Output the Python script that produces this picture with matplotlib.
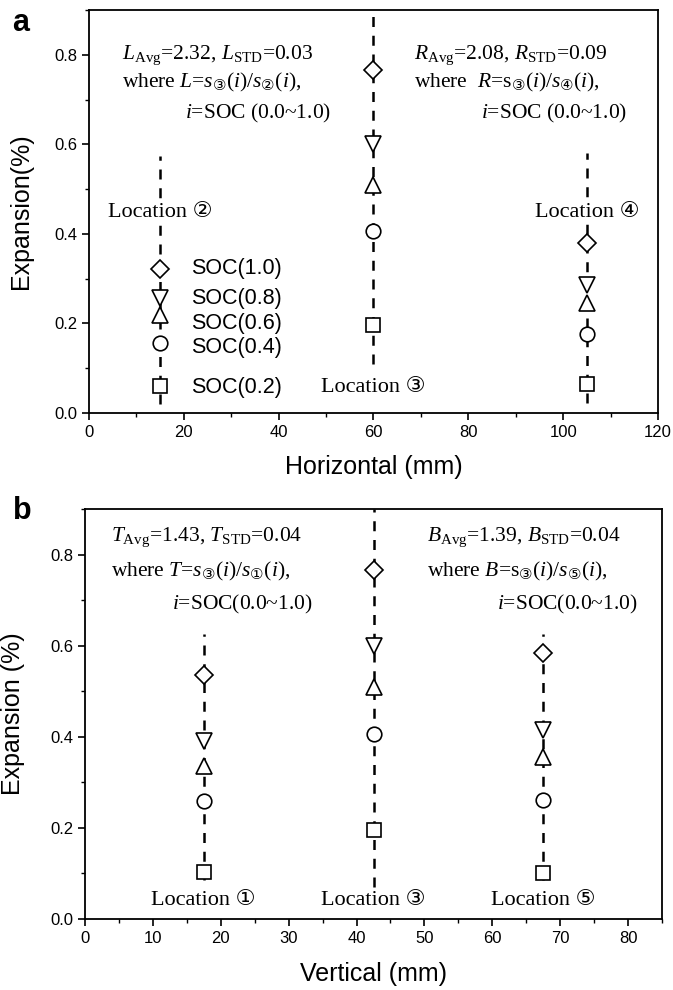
import matplotlib
matplotlib.use('Agg')
import matplotlib.pyplot as plt
from matplotlib.ticker import MultipleLocator

plt.rcParams['font.family'] = ['Liberation Sans', 'DejaVu Sans']
plt.rcParams['mathtext.fontset'] = 'custom'
plt.rcParams['mathtext.rm'] = 'Liberation Serif'
plt.rcParams['mathtext.it'] = 'Liberation Serif:italic'
plt.rcParams['mathtext.sf'] = 'DejaVu Sans'

# SOC levels and their marker shapes
soc_labels = ['SOC(1.0)', 'SOC(0.8)', 'SOC(0.6)', 'SOC(0.4)', 'SOC(0.2)']
soc_markers = ['D', 'v', '^', 'o', 's']

# panel a: horizontal locations (mm) and expansion (%)
a_x = [15, 60, 105]
a_loc2 = [0.321, 0.256, 0.219, 0.156, 0.060]
a_loc3 = [0.765, 0.600, 0.510, 0.406, 0.196]
a_loc4 = [0.379, 0.285, 0.245, 0.176, 0.065]
a_lines = [(0.02, 0.575), (0.11, 0.9), (0.022, 0.58)]

# panel b: vertical locations (mm) and expansion (%)
b_x = [17.5, 42.5, 67.5]
b_loc1 = [0.535, 0.390, 0.335, 0.258, 0.104]
b_loc3 = [0.765, 0.600, 0.510, 0.406, 0.196]
b_loc5 = [0.583, 0.415, 0.355, 0.262, 0.101]
b_lines = [(0.085, 0.625), (0.07, 0.9), (0.085, 0.625)]

serif = ['Liberation Serif', 'DejaVu Sans']
dash = (0, (4, 3.5))
msizes = {'D': 9.5, 'v': 11, '^': 11, 'o': 10.5, 's': 10}


def draw_column(ax, x, values, span):
    ax.plot([x, x], span, color='black', lw=1.8, linestyle=dash, zorder=1)
    for v, m in zip(values, soc_markers):
        ax.plot(x, v, marker=m, ms=msizes[m], mfc='white', mec='black',
                mew=1.2, linestyle='none', zorder=3)


def style_axes(ax, xmax, xmajor, xminor, xlabel, ylabel, ylab_x):
    ax.set_xlim(0, xmax)
    ax.set_ylim(0, 0.9)
    ax.xaxis.set_major_locator(MultipleLocator(xmajor))
    ax.xaxis.set_minor_locator(MultipleLocator(xminor))
    ax.yaxis.set_major_locator(MultipleLocator(0.2))
    ax.yaxis.set_minor_locator(MultipleLocator(0.1))
    ax.yaxis.set_major_formatter(matplotlib.ticker.FormatStrFormatter('%.1f'))
    ax.tick_params(which='major', direction='out', length=5, width=1.2, labelsize=12)
    ax.tick_params(which='minor', direction='out', length=3, width=1.0)
    for s in ax.spines.values():
        s.set_linewidth(1.3)
    ax.set_xlabel(xlabel, fontsize=18)
    ax.set_ylabel(ylabel, fontsize=18)
    ax.xaxis.set_label_coords(0.5, -0.105)
    ax.yaxis.set_label_coords(ylab_x, 0.5)


fig = plt.figure(figsize=(6.73, 9.9), dpi=100)
ax1 = fig.add_axes([0.1322, 0.5828, 0.8455, 0.4071])
ax2 = fig.add_axes([0.1263, 0.0717, 0.8574, 0.4142])

# ---- panel a ----
for x, vals, span in zip(a_x, [a_loc2, a_loc3, a_loc4], a_lines):
    draw_column(ax1, x, vals, span)

tsize = 15.5
lsize = 16
ax1.text(7.0, 0.80, r'$L_{\rm Avg}$=2.32, $L_{\rm STD}$=0.03', fontsize=tsize, family=serif, va='center')
ax1.text(7.0, 0.738, r'where $L$=$s_{\mathsf{③}}(i)/s_{\mathsf{②}}(i)$,', fontsize=tsize, family=serif, va='center')
ax1.text(20.3, 0.668, r'$i$=SOC (0.0~1.0)', fontsize=tsize, family=serif, va='center')
ax1.text(68.6, 0.80, r'$R_{\rm Avg}$=2.08, $R_{\rm STD}$=0.09', fontsize=tsize, family=serif, va='center')
ax1.text(68.6, 0.738, r'where  $R$=$\mathrm{s}_{\mathsf{③}}(i)/s_{\mathsf{④}}(i)$,', fontsize=tsize, family=serif, va='center')
ax1.text(82.7, 0.668, r'$i$=SOC (0.0~1.0)', fontsize=tsize, family=serif, va='center')

ax1.text(15, 0.448, 'Location ②', fontsize=lsize, family=serif, ha='center', va='center',
         bbox=dict(facecolor='white', edgecolor='none', pad=1), zorder=2)
ax1.text(60, 0.058, 'Location ③', fontsize=lsize, family=serif, ha='center', va='center', zorder=2)
ax1.text(105, 0.448, 'Location ④', fontsize=lsize, family=serif, ha='center', va='center',
         bbox=dict(facecolor='white', edgecolor='none', pad=1), zorder=2)

soc_y = [0.322, 0.256, 0.200, 0.147, 0.056]
for lab, y in zip(soc_labels, soc_y):
    ax1.text(21.5, y, lab, fontsize=15.5, va='center')

style_axes(ax1, 120, 20, 10, 'Horizontal (mm)', 'Expansion(%)', -0.098)

# ---- panel b ----
for x, vals, span in zip(b_x, [b_loc1, b_loc3, b_loc5], b_lines):
    draw_column(ax2, x, vals, span)

ax2.text(3.9, 0.837, r'$T_{\rm Avg}$=1.43, $T_{\rm STD}$=0.04', fontsize=tsize, family=serif, va='center')
ax2.text(3.9, 0.763, r'where $T$=$s_{\mathsf{③}}(i)/s_{\mathsf{①}}(i)$,', fontsize=tsize, family=serif, va='center')
ax2.text(12.8, 0.690, r'$i$=SOC(0.0~1.0)', fontsize=tsize, family=serif, va='center')
ax2.text(50.4, 0.837, r'$B_{\rm Avg}$=1.39, $B_{\rm STD}$=0.04', fontsize=tsize, family=serif, va='center')
ax2.text(50.4, 0.763, r'where $B$=$\mathrm{s}_{\mathsf{③}}(i)/s_{\mathsf{⑤}}(i)$,', fontsize=tsize, family=serif, va='center')
ax2.text(60.7, 0.690, r'$i$=SOC(0.0~1.0)', fontsize=tsize, family=serif, va='center')

for x, lab in zip(b_x, ['Location ①', 'Location ③', 'Location ⑤']):
    ax2.text(x, 0.040, lab, fontsize=lsize, family=serif, ha='center', va='center')

style_axes(ax2, 85, 10, 5, 'Vertical (mm)', 'Expansion (%)', -0.104)

fig.text(0.031, 1 - 23 / 990, 'a', fontsize=22, fontweight='bold', ha='center', va='center')
fig.text(0.033, 1 - 511 / 990, 'b', fontsize=22, fontweight='bold', ha='center', va='center')

fig.savefig('out.png', dpi=100)
